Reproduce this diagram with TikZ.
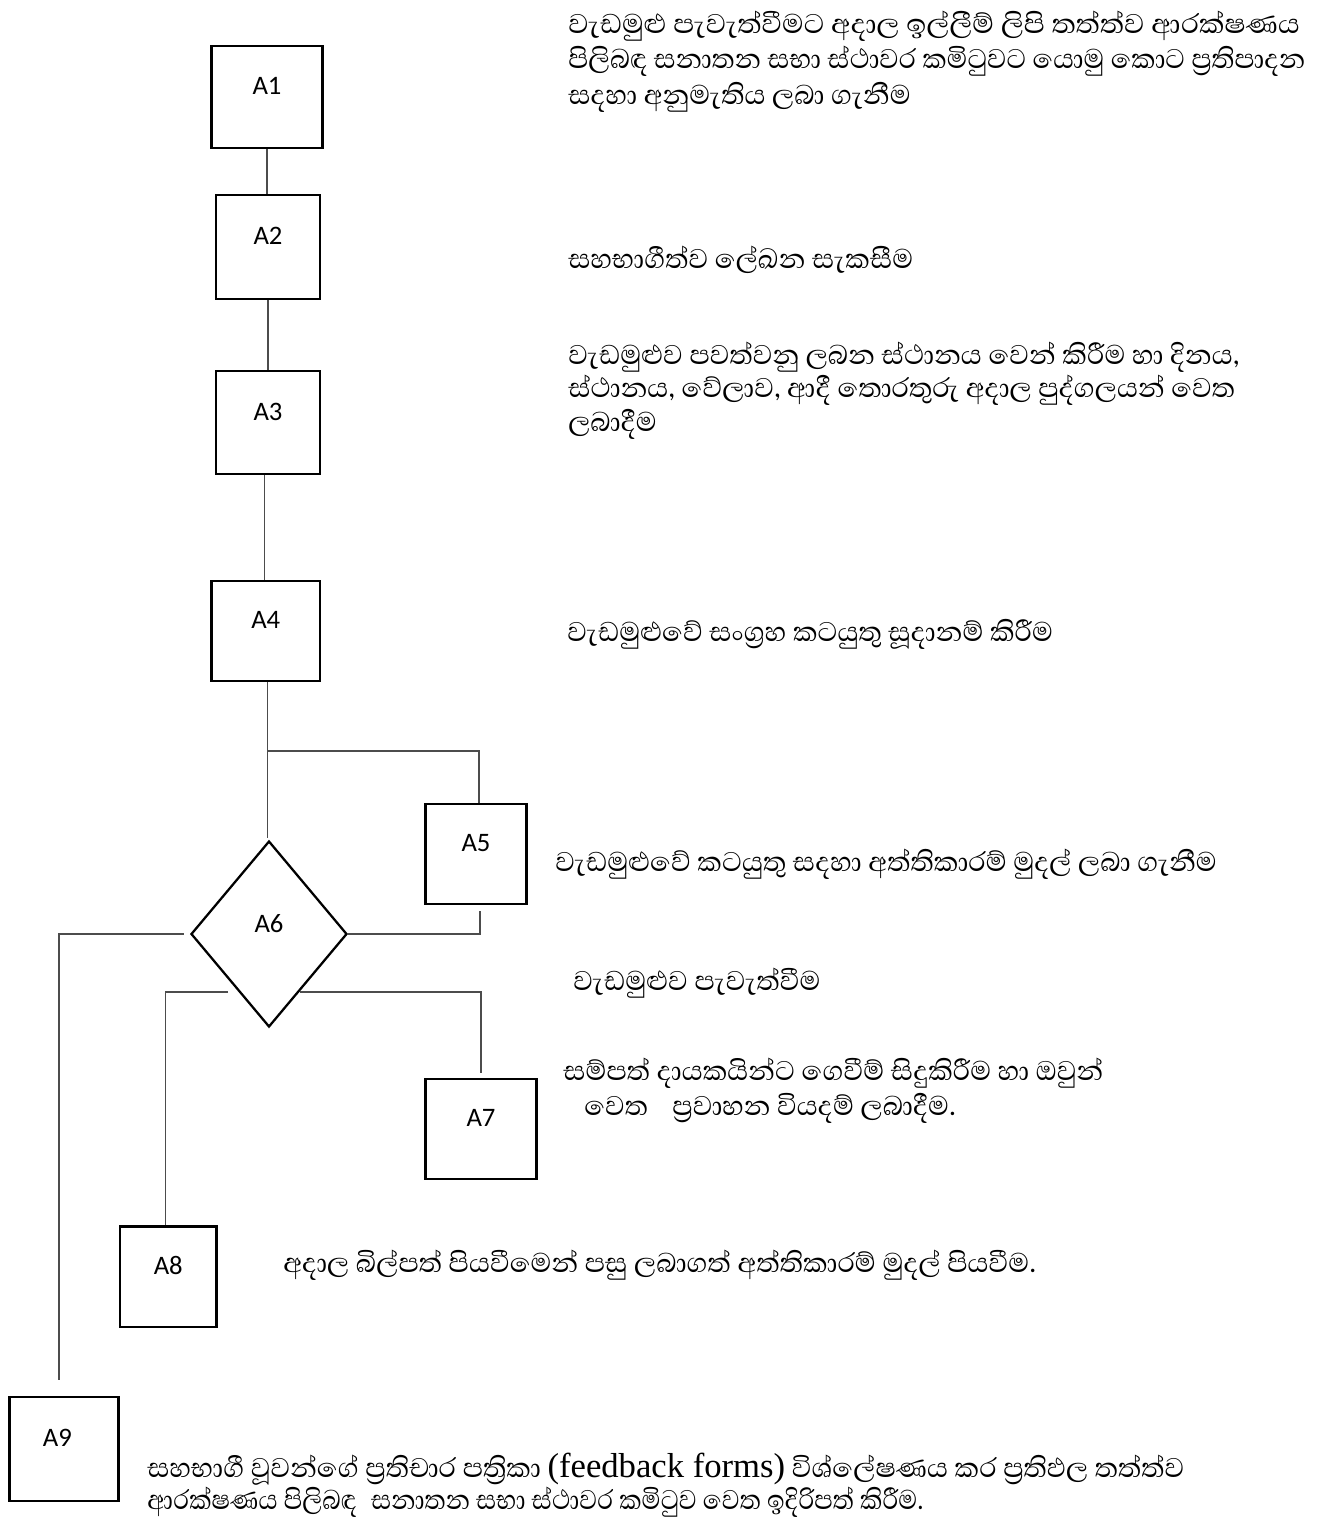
\documentclass[tikz,border=0pt]{standalone}
\usepackage{fontspec}
\usetikzlibrary{shapes.geometric}
\newfontfamily\sinhalafnt[Script=Sinhala]{Abhaya Libre}
\newfontfamily\labfnt{Carlito}
\newfontfamily\latfnt{Liberation Serif}
\begin{document}
\begin{tikzpicture}[x=0.75pt,y=-0.75pt,
  box/.style={draw,line width=1.7pt,inner sep=0pt,font=\labfnt\fontsize{20}{24}\selectfont,text depth=16.5pt},
  conn/.style={draw=black!70,line width=0.9pt},
  txt/.style={anchor=base west,inner sep=0pt,font=\sinhalafnt\fontsize{26}{30}\selectfont}]
\useasboundingbox[fill=white] (0,0) rectangle (1321,1522);

% boxes
\node[box,minimum width=83.25pt,minimum height=76.5pt] (A1) at (267,97) {A1};
\node[box,minimum width=78pt,minimum height=78pt] (A2) at (268,247) {A2};
\node[box,minimum width=78pt,minimum height=77.25pt] (A3) at (268,422.5) {A3};
\node[box,minimum width=81.4pt,minimum height=75pt] (A4) at (265.75,631) {A4};
\node[box,minimum width=75.75pt,minimum height=75pt] (A5) at (476,854) {A5};
\node[box,diamond,aspect=0.84,minimum width=117pt,minimum height=139.5pt] (A6) at (269,934) {A6};
\node[box,minimum width=83.25pt,minimum height=75pt] (A7) at (481,1129) {A7};
\node[box,minimum width=72.4pt,minimum height=75.4pt] (A8) at (168.25,1276.75) {A8};
\node[box,minimum width=81.75pt,minimum height=78pt] (A9) at (64,1449) {A9\kern10pt};

% connectors
\draw[conn] (A1.south) -- (A1.south |- A2.north);
\draw[conn] (A2.south) -- (A2.south |- A3.north);
\coordinate (a3s) at ([xshift=-2.5pt]A3.south);
\draw[conn] (a3s) -- (a3s |- A4.north);
\coordinate (a4s) at ([xshift=1.1pt]A4.south);
\draw[conn] (a4s) -- ([yshift=1.5pt]a4s |- A6.north);
\coordinate (b5) at (267,751);
\draw[conn] (b5) -| ([xshift=2.25pt]A5.north);
\draw[conn] (A6.east) -| ([xshift=3pt,yshift=-4.5pt]A5.south);
\coordinate (e9) at (59,1380);
\draw[conn] ([xshift=-4.5pt]A6.west) -| (e9);
\coordinate (s8) at (228,992);
\draw[conn] (s8) -| ([xshift=-1.9pt]A8.north);
\coordinate (s7) at (300,992);
\draw[conn] (s7) -| ([yshift=4pt]A7.north);

% texts
\node[txt] (t1a) at (568,33) {\scalebox{1.035}[1]{වැඩමුළු පැවැත්වීමට අදාල ඉල්ලීම් ලිපි තත්ත්ව ආරක්ෂණය}};
\node[txt] (t1b) at (568,68) {\scalebox{0.985}[1]{පිලිබඳ සනාතන සභා ස්ථාවර කමිටුවට යොමු කොට ප්^^^^200dරතිපාදන}};
\node[txt] (t1c) at (568,104) {සදහා අනුමැතිය ලබා ගැනීම};
\node[txt] (t2) at (568,268) {සහභාගීත්ව ලේඛන සැකසීම};
\node[txt] (t3a) at (568,364) {වැඩමුළුව පවත්වනු ලබන ස්ථානය වෙන් කිරීම හා දිනය,};
\node[txt] (t3b) at (568,397) {ස්ථානය, වේලාව, ආදී තොරතුරු අදාල පුද්ගලයන් වෙත};
\node[txt] (t3c) at (568,431) {ලබාදීම};
\node[txt] (t4) at (567,641) {වැඩමුළුවේ සංග්^^^^200dරහ කටයුතු සූදානම් කිරීම};
\node[txt] (t5) at (555,871) {වැඩමුළුවේ කටයුතු සදහා අත්තිකාරම් මුදල් ලබා ගැනීම};
\node[txt] (t6) at (573,990) {වැඩමුළුව පැවැත්වීම};
\node[txt] (t7a) at (563,1080) {සම්පත් දායකයින්ට ගෙවීම් සිදුකිරීම හා ඔවුන්};
\node[txt] (t7b) at (584,1115) {වෙත\hspace{0.7em}ප්^^^^200dරවාහන වියදම් ලබාදීම.};
\node[txt] (t8) at (283,1272) {අදාල බිල්පත් පියවීමෙන් පසු ලබාගත් අත්තිකාරම් මුදල් පියවීම.};
\node[txt] (t9a) at (147,1477) {සහභාගී වූවන්ගේ ප්^^^^200dරතිචාර පත්^^^^200dරිකා {\latfnt (feedback forms)} විශ්ලේෂණය කර ප්^^^^200dරතිඵල තත්ත්ව};
\node[txt] (t9b) at (147,1509) {\scalebox{0.91}[1]{ආරක්ෂණය පිලිබඳ\hspace{0.45em}සනාතන සභා ස්ථාවර කමිටුව වෙත ඉදිරිපත් කිරීම.}};
\end{tikzpicture}
\end{document}
